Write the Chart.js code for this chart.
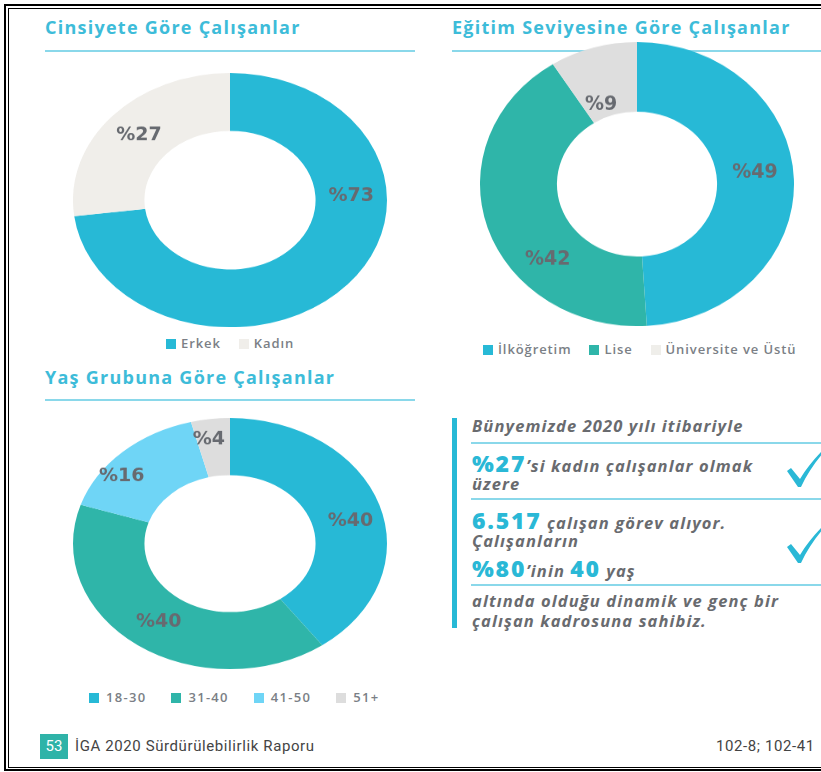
<!DOCTYPE html>
<html lang="tr">
<head>
<meta charset="UTF-8">
<title>Çalışanlar</title>
<script src="https://cdn.jsdelivr.net/npm/chart.js"></script>
<style>
  html, body { margin: 0; padding: 0; background: #fff; }
  body { width: 821px; height: 772px; overflow: hidden; position: relative; font-family: "Open Sans", sans-serif; }
  .abs { position: absolute; }
  .frame1 { left: 4px; top: 4px; width: 840px; height: 767px; border: 2px solid #000; border-right: none; box-sizing: border-box; }
  .frame2 { left: 8px; top: 8px; width: 840px; height: 760px; border: 1px solid #000; border-right: none; box-sizing: border-box; }
  .title { font-weight: 700; font-size: 18px; color: #3dbcd9; line-height: 22px; letter-spacing: 1.25px; white-space: nowrap; }
  .rule { height: 2px; background: #8ad8ea; }
  .donut { width: 314px; height: 314px; transform-origin: 0 0; }
  .legend { font-size: 13px; font-weight: 600; color: #7b7f86; letter-spacing: 0.9px; white-space: nowrap; line-height: 16px; }
  .legend span.sw { display: inline-block; width: 10px; height: 10px; margin-right: 5px; vertical-align: -1px; }
  .legend span.it { margin-right: 18px; }
  #l3 { letter-spacing: 1.3px; }
  #l3 span.it { margin-right: 25px; }
  #l3 span.sw { margin-right: 7px; }
  .txt { font-style: italic; font-weight: 700; font-size: 16.5px; color: #696b6f; white-space: nowrap; line-height: 20px; letter-spacing: 1.1px; }
  .big { font-style: normal; font-weight: 800; font-size: 23px; color: #2ab8d6; letter-spacing: 1.8px; }
  .foot { font-family: Roboto, sans-serif; font-size: 15px; color: #444; white-space: nowrap; line-height: 18px; letter-spacing: 0.6px; }
</style>
</head>
<body>
<div class="abs frame1"></div>
<div class="abs frame2"></div>

<div class="abs title" style="left:45px; top:16px;">Cinsiyete Göre Çalışanlar</div>
<div class="abs rule" style="left:45px; top:50px; width:370px;"></div>
<div class="abs title" style="left:452px; top:16px;">Eğitim Seviyesine Göre Çalışanlar</div>
<div class="abs rule" style="left:452px; top:50px; width:369px;"></div>
<div class="abs title" style="left:45px; top:366px;">Yaş Grubuna Göre Çalışanlar</div>
<div class="abs rule" style="left:45px; top:399px; width:370px;"></div>

<div class="abs donut" style="left:73px; top:73px; transform:scaleY(0.81);"><canvas id="c1" width="314" height="314"></canvas></div>
<div class="abs donut" style="left:480px; top:42px; transform:scaleY(0.905);"><canvas id="c2" width="314" height="314"></canvas></div>
<div class="abs donut" style="left:73px; top:418px; transform:scaleY(0.80);"><canvas id="c3" width="314" height="314"></canvas></div>

<div class="abs legend" id="l1" style="left:166px; top:335px;"></div>
<div class="abs legend" id="l2" style="left:483px; top:341px;"></div>
<div class="abs legend" id="l3" style="left:89px; top:689px;"></div>

<div class="abs" style="left:452px; top:418px; width:5px; height:210px; background:#27b9d6;"></div>
<div class="abs rule" style="left:471px; top:442px; width:350px;"></div>
<div class="abs rule" style="left:471px; top:498px; width:350px;"></div>
<div class="abs rule" style="left:471px; top:584px; width:350px;"></div>

<div class="abs txt" style="left:472px; top:416px;">Bünyemizde 2020 yılı itibariyle</div>
<div class="abs txt" style="left:472px; top:453px;"><span class="big">%27</span>’si kadın çalışanlar olmak</div>
<div class="abs txt" style="left:472px; top:474px;">üzere</div>
<div class="abs txt" style="left:472px; top:510px;"><span class="big">6.517</span> çalışan görev alıyor.</div>
<div class="abs txt" style="left:472px; top:531px;">Çalışanların</div>
<div class="abs txt" style="left:472px; top:558px;"><span class="big">%80</span>’inin <span class="big">40</span> yaş</div>
<div class="abs txt" style="left:472px; top:591px;">altında olduğu dinamik ve genç bir</div>
<div class="abs txt" style="left:472px; top:611px;">çalışan kadrosuna sahibiz.</div>

<svg class="abs" style="left:785px; top:448px;" width="40" height="42" viewBox="0 0 40 42">
  <path d="M2 23 L6 20 L15 31 C21 21 29 11 38 2 L39 4 C30 14 22 26 16 39 L13 39 Z" fill="#2ab8d6"/>
</svg>
<svg class="abs" style="left:785px; top:524px;" width="40" height="42" viewBox="0 0 40 42">
  <path d="M2 23 L6 20 L15 31 C21 21 29 11 38 2 L39 4 C30 14 22 26 16 39 L13 39 Z" fill="#2ab8d6"/>
</svg>

<div class="abs" style="left:40px; top:734px; width:28px; height:25px; background:#2fb3a8; color:#fff; font-family:Roboto, sans-serif; font-size:15px; line-height:25px; text-align:center;">53</div>
<div class="abs foot" style="left:75px; top:737px;">İGA 2020 Sürdürülebilirlik Raporu</div>
<div class="abs foot" style="left:716px; top:737px;">102-8; 102-41</div>

<script>
  // veriler
  const genderLabels = ['Erkek', 'Kadın'];
  const genderValues = [73, 27];
  const genderColors = ['#27b9d6', '#f0eeea'];

  const eduLabels = ['İlköğretim', 'Lise', 'Üniversite ve Üstü'];
  const eduValues = [49, 42, 9];
  const eduColors = ['#27b9d6', '#2fb5a9', '#dedede'];
  const eduLegendColors = ['#27b9d6', '#2fb5a9', '#efeeea'];

  const ageLabels = ['18-30', '31-40', '41-50', '51+'];
  const ageValues = [40, 40, 16, 4];
  const ageColors = ['#27b9d6', '#2fb5a9', '#6fd5f6', '#dddddd'];

  // dilim etiketleri (%değer)
  const sliceLabels = {
    id: 'sliceLabels',
    afterDatasetsDraw(chart, args, opts) {
      const ctx = chart.ctx;
      const meta = chart.getDatasetMeta(0);
      const values = chart.data.datasets[0].data;
      const shift = opts.shift || [];
      const rad = opts.rad || [];
      meta.data.forEach((arc, i) => {
        const p = arc.getProps(['x', 'y', 'startAngle', 'endAngle', 'innerRadius', 'outerRadius']);
        const mid = (p.startAngle + p.endAngle) / 2 + (shift[i] || 0) * Math.PI / 180;
        const r = (p.innerRadius + p.outerRadius) / 2 * (rad[i] || 1);
        ctx.save();
        ctx.translate(p.x + Math.cos(mid) * r, p.y + Math.sin(mid) * r);
        ctx.scale(1, 1 / opts.sy);
        ctx.font = 'bold 19px "DejaVu Sans", sans-serif';
        ctx.fillStyle = '#676a70';
        ctx.textAlign = 'center';
        ctx.textBaseline = 'middle';
        ctx.fillText('%' + values[i], 0, 0);
        ctx.restore();
      });
    }
  };

  function donut(id, labels, values, colors, sy, cutout, shift, rad) {
    return new Chart(document.getElementById(id), {
      type: 'doughnut',
      data: { labels, datasets: [{ data: values, backgroundColor: colors, borderWidth: 0, hoverOffset: 0 }] },
      options: {
        responsive: false,
        animation: false,
        cutout,
        layout: { padding: 0 },
        plugins: {
          legend: { display: false },
          tooltip: { enabled: false },
          sliceLabels: { sy, shift, rad }
        }
      },
      plugins: [sliceLabels]
    });
  }

  function legend(id, labels, colors) {
    document.getElementById(id).innerHTML = labels.map((l, i) =>
      `<span class="it"><span class="sw" style="background:${colors[i]}"></span>${l}</span>`).join('');
  }

  donut('c1', genderLabels, genderValues, genderColors, 0.81, '54.5%', [-44, 0], [1, 1]);
  donut('c2', eduLabels, eduValues, eduColors, 0.905, '51%', [-4, -25, -6], [1, 1.03, 0.8]);
  donut('c3', ageLabels, ageValues, ageColors, 0.80, '54.5%', [5, 0, -9, -2], [1.02, 1, 1.13, 1.09]);

  legend('l1', genderLabels, genderColors);
  legend('l2', eduLabels, eduLegendColors);
  legend('l3', ageLabels, ageColors);
</script>
</body>
</html>
